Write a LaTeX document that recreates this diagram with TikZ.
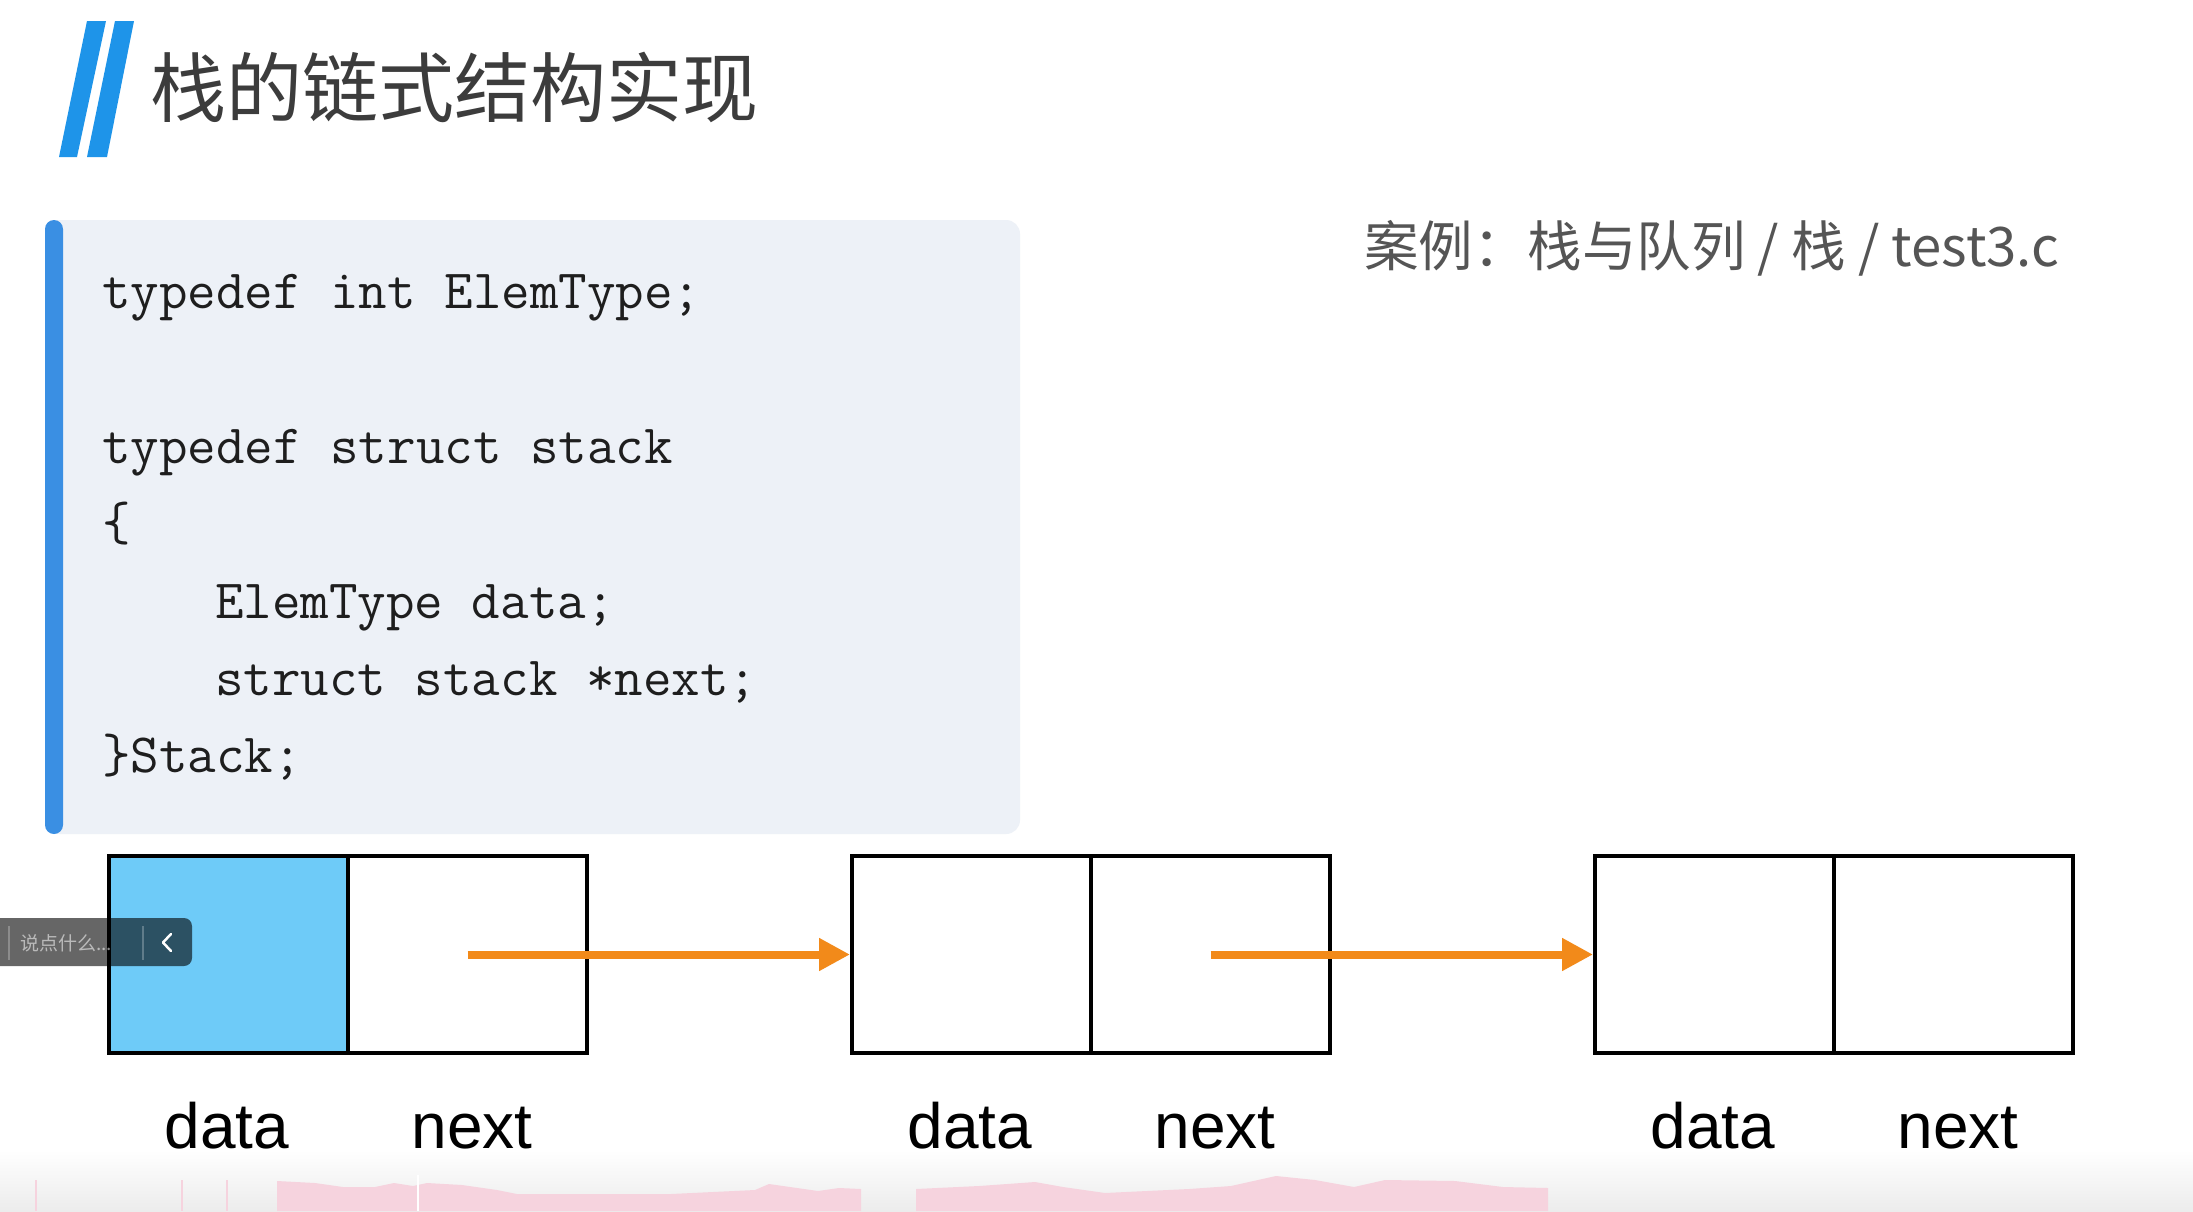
\documentclass[tikz,border=0pt]{standalone}
\usepackage{fontspec}
\setmainfont{Liberation Sans}
\newfontfamily\cjk{Noto Sans CJK SC}
\usetikzlibrary{arrows.meta}
\definecolor{barblue}{HTML}{1E94E9}
\definecolor{codebg}{HTML}{EDF1F7}
\definecolor{codebar}{HTML}{3A8FE3}
\definecolor{cellblue}{HTML}{6ECBF8}
\definecolor{arrorange}{HTML}{F28A1A}
\definecolor{titlegray}{HTML}{3C3C3C}
\definecolor{casegray}{HTML}{555555}
\definecolor{codeblack}{HTML}{1E1E1E}
\definecolor{pinkwave}{HTML}{F6D3DE}
\definecolor{bottomgray}{HTML}{ECECEC}
\begin{document}
\begin{tikzpicture}[x=1pt,y=-1pt,
  cell/.style={draw=black, line width=4pt, minimum width=239pt, minimum height=197pt, inner sep=0pt},
  arr/.style={draw=arrorange, line width=8pt, -{Triangle[length=31pt,width=31pt]}},
  lbl/.style={anchor=base, inner sep=0pt, font=\fontsize{64}{70}\selectfont, text=black},
  codeline/.style={anchor=base west, inner sep=0pt, font=\ttfamily\fontsize{55.4}{60}\selectfont, text=codeblack}]
% canvas
\fill[white] (0,0) rectangle (2193,1211);
\useasboundingbox (0,0) rectangle (2193,1211);
% bottom fade and wave strips
\shade[top color=white, bottom color=bottomgray] (0,1150) rectangle (2193,1211);
\fill[pinkwave] (277,1211) -- (277,1181) -- (315,1183) -- (343,1187) -- (375,1187) -- (394,1183) -- (413,1186) -- (427,1183) -- (462,1185) -- (497,1190) -- (517,1194) -- (671,1194) -- (755,1190) -- (769,1184) -- (797,1188) -- (818,1191) -- (839,1188) -- (861,1189) -- (861,1211) -- cycle;
\fill[pinkwave] (916,1211) -- (916,1189) -- (979,1186) -- (1035,1182) -- (1063,1187) -- (1105,1193) -- (1189,1189) -- (1231,1186) -- (1276,1176) -- (1315,1180) -- (1354,1187) -- (1385,1180) -- (1455,1181) -- (1503,1187) -- (1548,1188) -- (1548,1211) -- cycle;
\draw[white, line width=2.5pt] (418,1175) -- (418,1211);
\draw[pinkwave, line width=1.5pt] (36,1180) -- (36,1211) (182,1180) -- (182,1211) (227,1180) -- (227,1211);
% title
\fill[barblue] (59,157) -- (77,157) -- (106,21) -- (87,21) -- cycle;
\fill[barblue] (87,157) -- (107,157) -- (134,21) -- (115,21) -- cycle;
\node[anchor=base west, inner sep=0pt, text=titlegray, font=\cjk\fontsize{76}{80}\selectfont] (title) at (150,116) {栈的链式结构实现};
% case note
\node[anchor=base west, inner sep=0pt, text=casegray, font=\cjk\fontsize{54.5}{60}\selectfont] (case) at (1364,266) {案例：栈与队列 / 栈 / test3.c};
% code panel
\fill[codebg, rounded corners=14pt] (45,220) rectangle (1020,834);
\fill[codebar, rounded corners=9pt] (45,220) rectangle (63,834);
\node[codeline] (c1) at (102,308) {typedef int ElemType;};
\node[codeline] (c2) at (102,463) {typedef struct stack};
\node[codeline] (c3) at (102,540) {\{};
\node[codeline] (c4) at (215,618) {ElemType data;};
\node[codeline] (c5) at (215,695) {struct stack *next;};
\node[codeline] (c6) at (102,772) {\}Stack;};
% linked nodes
\node[cell, fill=cellblue] (d1) at (228.5,954.5) {};
\node[cell, fill=white] (n1) at (467.5,954.5) {};
\node[cell, fill=white] (d2) at (971.5,954.5) {};
\node[cell, fill=white] (n2) at (1210.5,954.5) {};
\node[cell, fill=white] (d3) at (1714.5,954.5) {};
\node[cell, fill=white] (n3) at (1953.5,954.5) {};
\draw[arr] (n1.center) -- (d2.west);
\draw[arr] (n2.center) -- (d3.west);
\node[lbl] (l1) at (227,1148) {data};
\node[lbl] (l2) at (472,1148) {next};
\node[lbl] (l3) at (970,1148) {data};
\node[lbl] (l4) at (1215,1148) {next};
\node[lbl] (l5) at (1713,1148) {data};
\node[lbl] (l6) at (1958,1148) {next};
% player comment widget overlay
\fill[black, fill opacity=0.6] (0,918) -- (184,918) arc[start angle=90, end angle=0, radius=8pt] -- (192,958) arc[start angle=0, end angle=-90, radius=8pt] -- (0,966) -- cycle;
\draw[white, opacity=0.25, line width=1.5pt] (9,926) -- (9,960) (143,926) -- (143,960);
\node[anchor=west, inner sep=0pt, text=white, text opacity=0.55, font=\cjk\fontsize{19}{20}\selectfont] (say) at (20,943) {说点什么...};
\coordinate (chevA) at (171,934);
\coordinate (chevB) at (163,942.5);
\coordinate (chevC) at (171,951);
\draw[white, line width=2.5pt, line cap=round, line join=round] (chevA) -- (chevB) -- (chevC);
\end{tikzpicture}
\end{document}
